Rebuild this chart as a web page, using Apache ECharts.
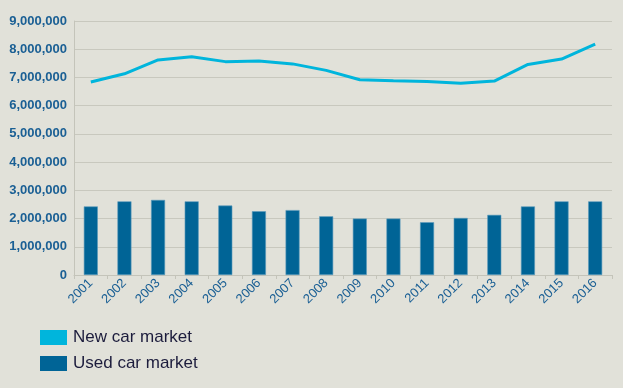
<!DOCTYPE html>
<html><head><meta charset="utf-8">
<script src="https://cdn.jsdelivr.net/npm/echarts@6/dist/echarts.min.js"></script>
<style>html,body{margin:0;padding:0;background:#e1e1d9}#c{width:623px;height:388px}</style>
</head><body><div id="c"></div>
<script>
var years = ['2001','2002','2003','2004','2005','2006','2007','2008','2009','2010','2011','2012','2013','2014','2015','2016'];
var newCar = [6840000,7130000,7620000,7730000,7560000,7580000,7480000,7250000,6920000,6880000,6860000,6790000,6870000,7460000,7650000,8180000];
var usedCar = [2430000,2610000,2660000,2610000,2460000,2260000,2300000,2080000,2000000,2000000,1870000,2020000,2130000,2430000,2610000,2610000];
var yTicks = [0,1000000,2000000,3000000,4000000,5000000,6000000,7000000,8000000,9000000];

function fmt(v){return String(v).replace(/\B(?=(\d{3})+(?!\d))/g, ',');}
var chart = echarts.init(document.getElementById('c'));
chart.setOption({
  backgroundColor:'#e1e1d9',
  animation:false,
  grid:{left:74,right:11,top:21,bottom:113,containLabel:false},
  legend:{orient:'vertical',left:35,top:324,itemWidth:27,itemHeight:15,itemGap:9,
    icon:'rect',
    textStyle:{fontFamily:'Liberation Sans, Arial, sans-serif',fontSize:17,color:'#1c1c3c',padding:[0,0,0,1]},
    data:[{name:'New car market',itemStyle:{color:'#00b5dc',borderWidth:0}},{name:'Used car market',itemStyle:{color:'#006496',borderWidth:0}}]},
  xAxis:{type:'category',data:years,
    axisLine:{lineStyle:{color:'#c4c4ba',width:1}},
    axisTick:{show:true,length:4,lineStyle:{color:'#c4c4ba'}},
    axisLabel:{rotate:45,fontSize:13,color:'#1a5f94',fontFamily:'Liberation Sans, Arial, sans-serif',margin:6,interval:0}},
  yAxis:{type:'value',min:yTicks[0],max:yTicks[yTicks.length-1],interval:1000000,
    axisLine:{show:true,lineStyle:{color:'#c4c4ba'}},
    axisTick:{show:false},
    splitLine:{lineStyle:{color:'#c8c8be',width:1}},
    axisLabel:{formatter:fmt,fontSize:13,fontWeight:'bold',color:'#1a5f94',fontFamily:'Liberation Sans, Arial, sans-serif',margin:7}},
  series:[
    {name:'New car market',type:'line',data:newCar,symbol:'none',
      lineStyle:{color:'#00b5dc',width:3},itemStyle:{color:'#00b5dc'}},
    {name:'Used car market',type:'bar',data:usedCar,barWidth:14,
      itemStyle:{color:'#006496',borderColor:'#5a9abc',borderWidth:0.6}}
  ]
});
</script></body></html>
